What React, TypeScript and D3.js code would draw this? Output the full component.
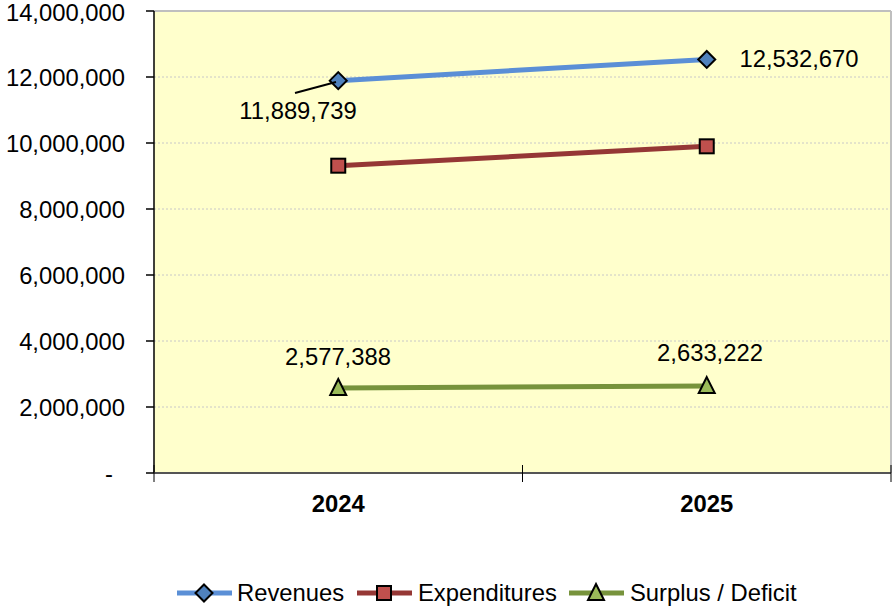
import React from "react";
import * as d3 from "d3";

const categories = ["2024", "2025"];
const revenues = [11889739, 12532670];
const expenditures = [9312351, 9899448];
const surplus = [2577388, 2633222];
const yTicks = [0, 2000000, 4000000, 6000000, 8000000, 10000000, 12000000, 14000000];
const seriesNames = ["Revenues", "Expenditures", "Surplus / Deficit"];

const W = 892, H = 611;
const left = 154, right = 891, top = 11, bottom = 473;
const FONT = "'Liberation Sans', Arial, sans-serif";
const FS = 23.8;

const x = d3.scaleBand<string>().domain(categories).range([left, right]);
const y = d3.scaleLinear().domain([0, 14000000]).range([bottom, top]);
const cx = (c: string) => (x(c) as number) + x.bandwidth() / 2;
const fmt = d3.format(",");

const colors = {
  rev: { line: "#5B8FD6", fill: "#4F81BD" },
  exp: { line: "#953735", fill: "#C0504D" },
  sur: { line: "#77933C", fill: "#9BBB59" },
};

function Marker({ kind, px, py, fill }: { kind: string; px: number; py: number; fill: string }) {
  if (kind === "diamond") {
    const s = 8.5;
    return <path d={`M${px},${py - s}L${px + s},${py}L${px},${py + s}L${px - s},${py}Z`} fill={fill} stroke="#000" strokeWidth={2} />;
  }
  if (kind === "square") {
    const s = 7;
    return <rect x={px - s} y={py - s} width={2 * s} height={2 * s} fill={fill} stroke="#000" strokeWidth={2} />;
  }
  const s = 8;
  return <path d={`M${px},${py - s - 1}L${px + s},${py + s - 1}L${px - s},${py + s - 1}Z`} fill={fill} stroke="#000" strokeWidth={2} />;
}

export default function App() {
  const line = d3.line<number>().x((_, i) => cx(categories[i])).y((d) => y(d));
  const series = [
    { data: revenues, c: colors.rev, kind: "diamond" },
    { data: expenditures, c: colors.exp, kind: "square" },
    { data: surplus, c: colors.sur, kind: "triangle" },
  ];
  const gridTicks = yTicks.filter((t) => t > 0);
  const legendItems = [
    { x0: 177, c: colors.rev, kind: "diamond", tx: 237 },
    { x0: 357, c: colors.exp, kind: "square", tx: 418 },
    { x0: 569, c: colors.sur, kind: "triangle", tx: 630 },
  ];
  return (
    <svg width={W} height={H} style={{ position: "absolute", left: 0, top: 0, background: "#fff" }} fontFamily={FONT}>
      <rect x={left} y={top} width={right - left} height={bottom - top} fill="#FFFFCC" />
      {gridTicks.map((t) => (
        <line key={t} x1={left} x2={right} y1={y(t)} y2={y(t)} stroke="#C8C8C8" strokeWidth={1} strokeDasharray="2,2" />
      ))}
      <line x1={left} x2={right} y1={top} y2={top} stroke="#BFBFBF" strokeWidth={2} />
      <line x1={right} x2={right} y1={top} y2={bottom} stroke="#BFBFBF" strokeWidth={2} />
      <line x1={left} x2={left} y1={top} y2={bottom} stroke="#000" strokeWidth={1.5} />
      {yTicks.map((t) => (
        <g key={t}>
          <line x1={left - 8} x2={left} y1={y(t)} y2={y(t)} stroke="#000" strokeWidth={1.5} />
          <text x={t === 0 ? 113 : 125} y={t === 14000000 ? y(t) + 1 : y(t)} dy="0.36em" textAnchor="end" fontSize={FS} fill="#000">
            {t === 0 ? "-" : fmt(t)}
          </text>
        </g>
      ))}
      <line x1={left} x2={right} y1={bottom} y2={bottom} stroke="#555" strokeWidth={2} />
      {[left, left + x.bandwidth(), right].map((tx, i) => (
        <line key={i} x1={tx} x2={tx} y1={bottom - 8} y2={bottom + 9} stroke="#000" strokeWidth={1} />
      ))}
      {categories.map((c) => (
        <text key={c} x={cx(c)} y={512} textAnchor="middle" fontSize={FS} fontWeight="bold">{c}</text>
      ))}
      {series.map((s, si) => (
        <g key={si}>
          <path d={line(s.data) as string} fill="none" stroke={s.c.line} strokeWidth={5} />
          {s.data.map((v, i) => (
            <Marker key={i} kind={s.kind} px={cx(categories[i])} py={y(v)} fill={s.c.fill} />
          ))}
        </g>
      ))}
      {/* data labels */}
      <line x1={295} y1={93} x2={336} y2={82} stroke="#000" strokeWidth={2} />
      <text x={298} y={119} textAnchor="middle" fontSize={FS}>{fmt(revenues[0])}</text>
      <text x={799} y={67} textAnchor="middle" fontSize={FS}>{fmt(revenues[1])}</text>
      <text x={338} y={365} textAnchor="middle" fontSize={FS}>{fmt(surplus[0])}</text>
      <text x={710} y={361} textAnchor="middle" fontSize={FS}>{fmt(surplus[1])}</text>
      {legendItems.map((l, i) => (
        <g key={i}>
          <line x1={l.x0} x2={l.x0 + 55} y1={593} y2={593} stroke={l.c.line} strokeWidth={5} />
          <Marker kind={l.kind} px={l.x0 + 27} py={593} fill={l.c.fill} />
          <text x={l.tx} y={601} fontSize={FS}>{seriesNames[i]}</text>
        </g>
      ))}
    </svg>
  );
}
